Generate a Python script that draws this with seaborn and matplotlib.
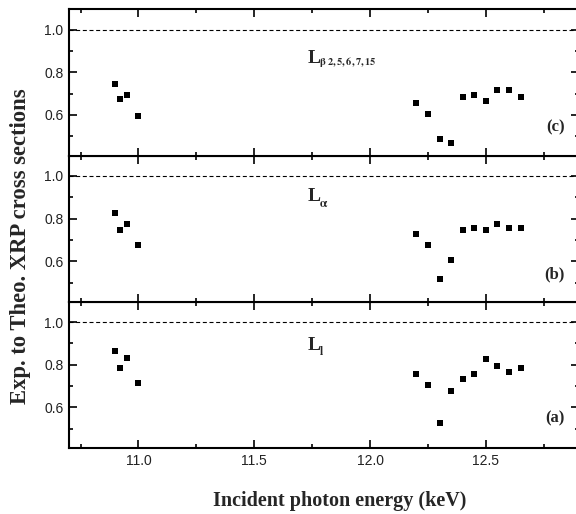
import numpy as np
import pandas as pd
import matplotlib
matplotlib.use("Agg")
import matplotlib.pyplot as plt
import seaborn as sns

# ---- data ----
energy = [10.9, 10.92, 10.95, 11.0, 12.2, 12.25, 12.3, 12.35, 12.4, 12.45, 12.5, 12.55, 12.6, 12.65]
ratio_lbeta = [0.747, 0.675, 0.695, 0.597, 0.655, 0.606, 0.486, 0.467, 0.686, 0.695, 0.667, 0.716, 0.716, 0.686]
ratio_lalpha = [0.825, 0.746, 0.775, 0.676, 0.726, 0.676, 0.516, 0.605, 0.746, 0.755, 0.746, 0.775, 0.755, 0.755]
ratio_ll = [0.864, 0.783, 0.833, 0.715, 0.755, 0.706, 0.527, 0.676, 0.735, 0.755, 0.825, 0.795, 0.764, 0.785]
panel_main = ['L', 'L', 'L']
panel_subs = [r'$\mathbf{\beta\ 2,5,6,7,15}$', r'$\mathbf{\alpha}$', r'$\mathbf{l}$']
panel_tags = ['(c)', '(b)', '(a)']
xticks_major = [11.0, 11.5, 12.0, 12.5]
xticks_minor = [10.75, 11.25, 11.75, 12.25, 12.75]
xtick_labels = ['11.0', '11.5', '12.0', '12.5']
yticks_major = [0.6, 0.8, 1.0]
yticks_minor = [0.5, 0.7, 0.9]
ytick_labels = ['0.6', '0.8', '1.0']
xlabel = 'Incident photon energy (keV)'
ylabel = 'Exp. to Theo. XRP cross sections'

sns.set_style('ticks')
plt.rcParams['mathtext.fontset'] = 'stix'
plt.rcParams['font.family'] = ['Liberation Sans', 'DejaVu Sans']

fig = plt.figure(figsize=(5.76, 5.14), dpi=100)

left = 69 / 576
width = (578.5 - 69) / 576
bottom0 = 1 - 448 / 514
top0 = 1 - 9.3 / 514
h = (top0 - bottom0) / 3

series = [ratio_lbeta, ratio_lalpha, ratio_ll]
title_y = [0.845, 0.88, 0.871]
sub_dy = [-2.0, -4.0, -4.0]
sub_size = [7.5, 8.5, 8.5]
tag_y = [0.525, 0.52, 0.53]

for i, (vals, main, sub, tag) in enumerate(zip(series, panel_main, panel_subs, panel_tags)):
    ax = fig.add_axes([left, top0 - (i + 1) * h, width, h])
    df = pd.DataFrame({'x': energy, 'y': vals})
    sns.scatterplot(data=df, x='x', y='y', ax=ax, marker='s', s=15,
                    color='black', edgecolor='black', linewidth=0, zorder=3)
    ax.axhline(1.0, color='black', lw=0.8, ls=(0, (3.6, 2.4)), zorder=1)
    ax.set_xlim(10.7, 12.9)
    ax.set_ylim(0.41, 1.095)
    ax.set_xticks(xticks_major)
    ax.set_xticks(xticks_minor, minor=True)
    ax.set_yticks(yticks_major)
    ax.set_yticks(yticks_minor, minor=True)
    ax.set_yticklabels(ytick_labels)
    ax.tick_params(which='both', direction='in', top=True, right=True,
                   width=1.2, color='black')
    ax.tick_params(which='major', length=6, labelsize=10, labelcolor='#222222', pad=4)
    ax.tick_params(which='minor', length=3)
    if i < 2:
        ax.tick_params(labelbottom=False)
    else:
        ax.set_xticklabels(xtick_labels)
    for sp in ax.spines.values():
        sp.set_linewidth(1.5)
        sp.set_color('black')
    ax.set_xlabel('')
    ax.set_ylabel('')
    ax.text(11.73, title_y[i], main, fontsize=14, fontweight='bold',
            family=['Liberation Serif'], ha='left', va='baseline')
    ax.annotate(sub, xy=(11.73, title_y[i]), xytext=(8.3, sub_dy[i]),
                textcoords='offset points', fontsize=sub_size[i],
                ha='left', va='baseline')
    ax.text(0.973, tag_y[i], tag, transform=ax.get_yaxis_transform(),
            fontsize=12, fontweight='bold', family=['Liberation Serif'],
            ha='right', va='baseline')
    ax.set_zorder(3 - i)

fig.text(340 / 576, 1 - 501 / 514, xlabel, fontsize=14.5, fontweight='bold',
         family=['Liberation Serif'], ha='center', va='center')
fig.text(21 / 576, 1 - 246.5 / 514, ylabel, fontsize=16.3, fontweight='bold',
         family=['Liberation Serif'], ha='center', va='center', rotation=90)

fig.savefig('out.png', dpi=100)
